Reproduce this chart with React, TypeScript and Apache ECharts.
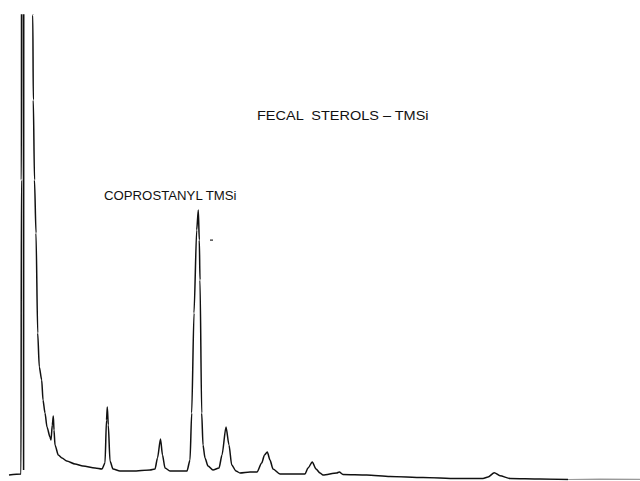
import React, { useEffect, useRef } from "react";
import * as echarts from "echarts";

// Retention time (arbitrary time units) and detector response (arbitrary units); 600 = off-scale
const traceTime = [
  9, 21, 21.4, 21.6, 23.4, 23.6, 23.8, 32.4, 32.8, 33.3, 34.5, 36, 37.7, 39.3, 41.7, 43, 45, 47, 50, 51,
  52.3, 53.3, 54, 55, 58.3, 62, 66.7, 75, 83, 95, 102, 105, 106.5, 107.3, 108.3, 110, 113, 120, 133,
  150, 155, 157.5, 160.5, 162.5, 165, 170, 187, 190, 191.7, 194, 196.7, 198.3, 199.3, 200, 201.7, 203,
  205, 208, 213, 219, 222, 226, 229, 231.7, 236, 240, 250, 253, 257, 261.7, 264.5, 267.3, 270, 273,
  280, 305, 308, 312.3, 316, 320, 323, 336.7, 339.3, 343, 366.7, 390, 423, 456.7, 483, 488, 494.3,
  500, 510, 540, 568,
];
const traceSignal = [
  5, 6, 300, 600, 600, 10, 600, 600, 465, 380, 300, 247, 147, 113, 100, 80, 67, 53, 43, 40,
  55, 64, 50, 35, 25, 22, 19, 16, 14, 12, 11, 17, 60, 73, 55, 19, 11, 9, 9,
  10, 11, 22, 41, 25, 12, 9, 9, 20, 67, 167, 250, 270, 240, 200, 67, 35,
  22, 14, 10, 12, 25, 53, 35, 15, 9, 7, 8, 8, 8, 17, 25, 28, 20, 11,
  6, 6, 12, 18, 11, 7, 5, 7, 8, 5.5, 5, 3.5, 2.5, 1.5, 1.5, 3, 7.3,
  4.3, 1.5, 1, 0.5,
];
// faint continuation of the baseline at the right edge
const tailTime = [568, 600, 640];
const tailSignal = [0.5, 0.8, 0.6];

const titleLabel = "FECAL  STEROLS – TMSi";
const peakLabel = "COPROSTANYL TMSi";

export default function App() {
  const ref = useRef<HTMLDivElement>(null);
  useEffect(() => {
    if (!ref.current) return;
    const chart = echarts.init(ref.current, undefined, { renderer: "svg" });
    const main = traceTime.map((t, i) => [t, traceSignal[i]]);
    const tail = tailTime.map((t, i) => [t, tailSignal[i]]);
    chart.setOption({
      animation: false,
      backgroundColor: "#ffffff",
      grid: { left: 0, right: 0, top: 15, bottom: 1 },
      xAxis: { type: "value", min: 0, max: 640, show: false },
      yAxis: { type: "value", min: 0, max: 465, show: false },
      series: [
        {
          type: "line",
          data: main,
          symbol: "none",
          clip: true,
          smooth: 0.25,
          smoothMonotone: "x",
          lineStyle: { color: "#111111", width: 1.5 },
        },
        {
          type: "line",
          data: tail,
          symbol: "none",
          clip: true,
          lineStyle: { color: "#9a9a9a", width: 1.2 },
        },
      ],
      graphic: [
        {
          type: "text",
          x: 257,
          y: 110,
          scaleX: 1.21,
          style: {
            text: titleLabel,
            fontFamily: "Liberation Sans",
            fontSize: 12,
            fill: "#111111",
          },
        },
        {
          type: "text",
          x: 104,
          y: 190,
          scaleX: 1.1,
          style: {
            text: peakLabel,
            fontFamily: "Liberation Sans",
            fontSize: 12,
            fill: "#111111",
          },
        },
        {
          type: "rect",
          shape: { x: 210, y: 239.5, width: 3, height: 1.2 },
          style: { fill: "#222222" },
        },
      ],
    });
    return () => chart.dispose();
  }, []);
  return (
    <div
      ref={ref}
      style={{ position: "fixed", left: 0, top: 0, width: 640, height: 481 }}
    />
  );
}
